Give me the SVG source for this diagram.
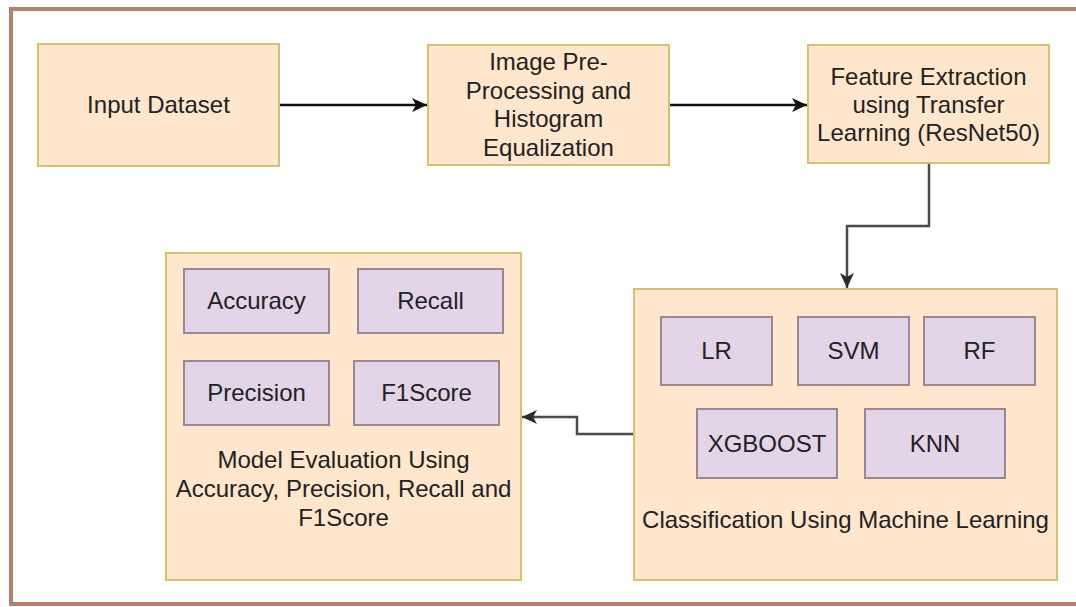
<svg xmlns="http://www.w3.org/2000/svg" width="1076" height="607" viewBox="0 0 1076 607">
  <defs>
    <style>
      .frame { fill: #ffffff; stroke: #b5806e; stroke-width: 4; }
      .main { fill: #ffe6cc; stroke: #d6c170; stroke-width: 2; }
      .sub { fill: #e1d5e7; stroke: #9b8794; stroke-width: 2; }
      text { font-family: "Liberation Sans", Arial, sans-serif; font-size: 24px; fill: #222222; text-anchor: middle; }
      .conn { fill: none; stroke-width: 2.5; }
      .black { stroke: #111111; }
      .gray { stroke: #4a4a4a; }
    </style>
    <marker id="arrB" markerUnits="userSpaceOnUse" markerWidth="16" markerHeight="14" refX="15" refY="7" orient="auto">
      <path d="M0,0 L15,7 L0,14 L4,7 z" fill="#111111"/>
    </marker>
    <marker id="arrG" markerUnits="userSpaceOnUse" markerWidth="16" markerHeight="14" refX="15" refY="7" orient="auto">
      <path d="M0,0 L15,7 L0,14 L4,7 z" fill="#2a2a2a"/>
    </marker>
  </defs>

  <rect x="0" y="0" width="1076" height="607" fill="#ffffff"/>
  <rect class="frame" x="11" y="9" width="1080" height="595"/>

  <g id="connectors">
    <path class="conn black" d="M279,105 H427" marker-end="url(#arrB)"/>
    <path class="conn black" d="M669,105 H807" marker-end="url(#arrB)"/>
    <path class="conn gray" d="M929,163 V226 H847 V288" marker-end="url(#arrG)"/>
    <path class="conn gray" d="M634,434 H577 V417 H522" marker-end="url(#arrG)"/>
  </g>

  <g id="input-dataset">
    <rect class="main" x="38" y="44" width="241" height="122"/>
    <text x="158.5" y="113">Input Dataset</text>
  </g>

  <g id="preprocessing">
    <rect class="main" x="428" y="45" width="241" height="120"/>
    <text x="548.5" y="70">Image Pre-</text>
    <text x="548.5" y="99">Processing and</text>
    <text x="548.5" y="127">Histogram</text>
    <text x="548.5" y="156">Equalization</text>
  </g>

  <g id="feature-extraction">
    <rect class="main" x="808" y="45" width="241" height="118"/>
    <text x="928.5" y="85">Feature Extraction</text>
    <text x="928.5" y="113">using Transfer</text>
    <text x="928.5" y="141">Learning (ResNet50)</text>
  </g>

  <g id="classification">
    <rect class="main" x="634" y="289" width="423" height="291"/>
    <text x="845.5" y="528">Classification Using Machine Learning</text>
    <g id="lr">
      <rect class="sub" x="661" y="317" width="111" height="68"/>
      <text x="716.5" y="359">LR</text>
    </g>
    <g id="svm">
      <rect class="sub" x="798" y="317" width="111" height="68"/>
      <text x="853.5" y="359">SVM</text>
    </g>
    <g id="rf">
      <rect class="sub" x="924" y="317" width="111" height="68"/>
      <text x="979.5" y="359">RF</text>
    </g>
    <g id="xgboost">
      <rect class="sub" x="697" y="409" width="140" height="69"/>
      <text x="767" y="452">XGBOOST</text>
    </g>
    <g id="knn">
      <rect class="sub" x="865" y="409" width="140" height="69"/>
      <text x="935" y="452">KNN</text>
    </g>
  </g>

  <g id="model-evaluation">
    <rect class="main" x="166" y="253" width="355" height="327"/>
    <text x="343.5" y="468">Model Evaluation Using</text>
    <text x="343.5" y="497">Accuracy, Precision, Recall and</text>
    <text x="343.5" y="526">F1Score</text>
    <g id="accuracy">
      <rect class="sub" x="184" y="269" width="145" height="64"/>
      <text x="256.5" y="309">Accuracy</text>
    </g>
    <g id="recall">
      <rect class="sub" x="358" y="269" width="145" height="64"/>
      <text x="430.5" y="309">Recall</text>
    </g>
    <g id="precision">
      <rect class="sub" x="184" y="361" width="145" height="64"/>
      <text x="256.5" y="401">Precision</text>
    </g>
    <g id="f1score">
      <rect class="sub" x="354" y="361" width="145" height="64"/>
      <text x="426.5" y="401">F1Score</text>
    </g>
  </g>
</svg>
